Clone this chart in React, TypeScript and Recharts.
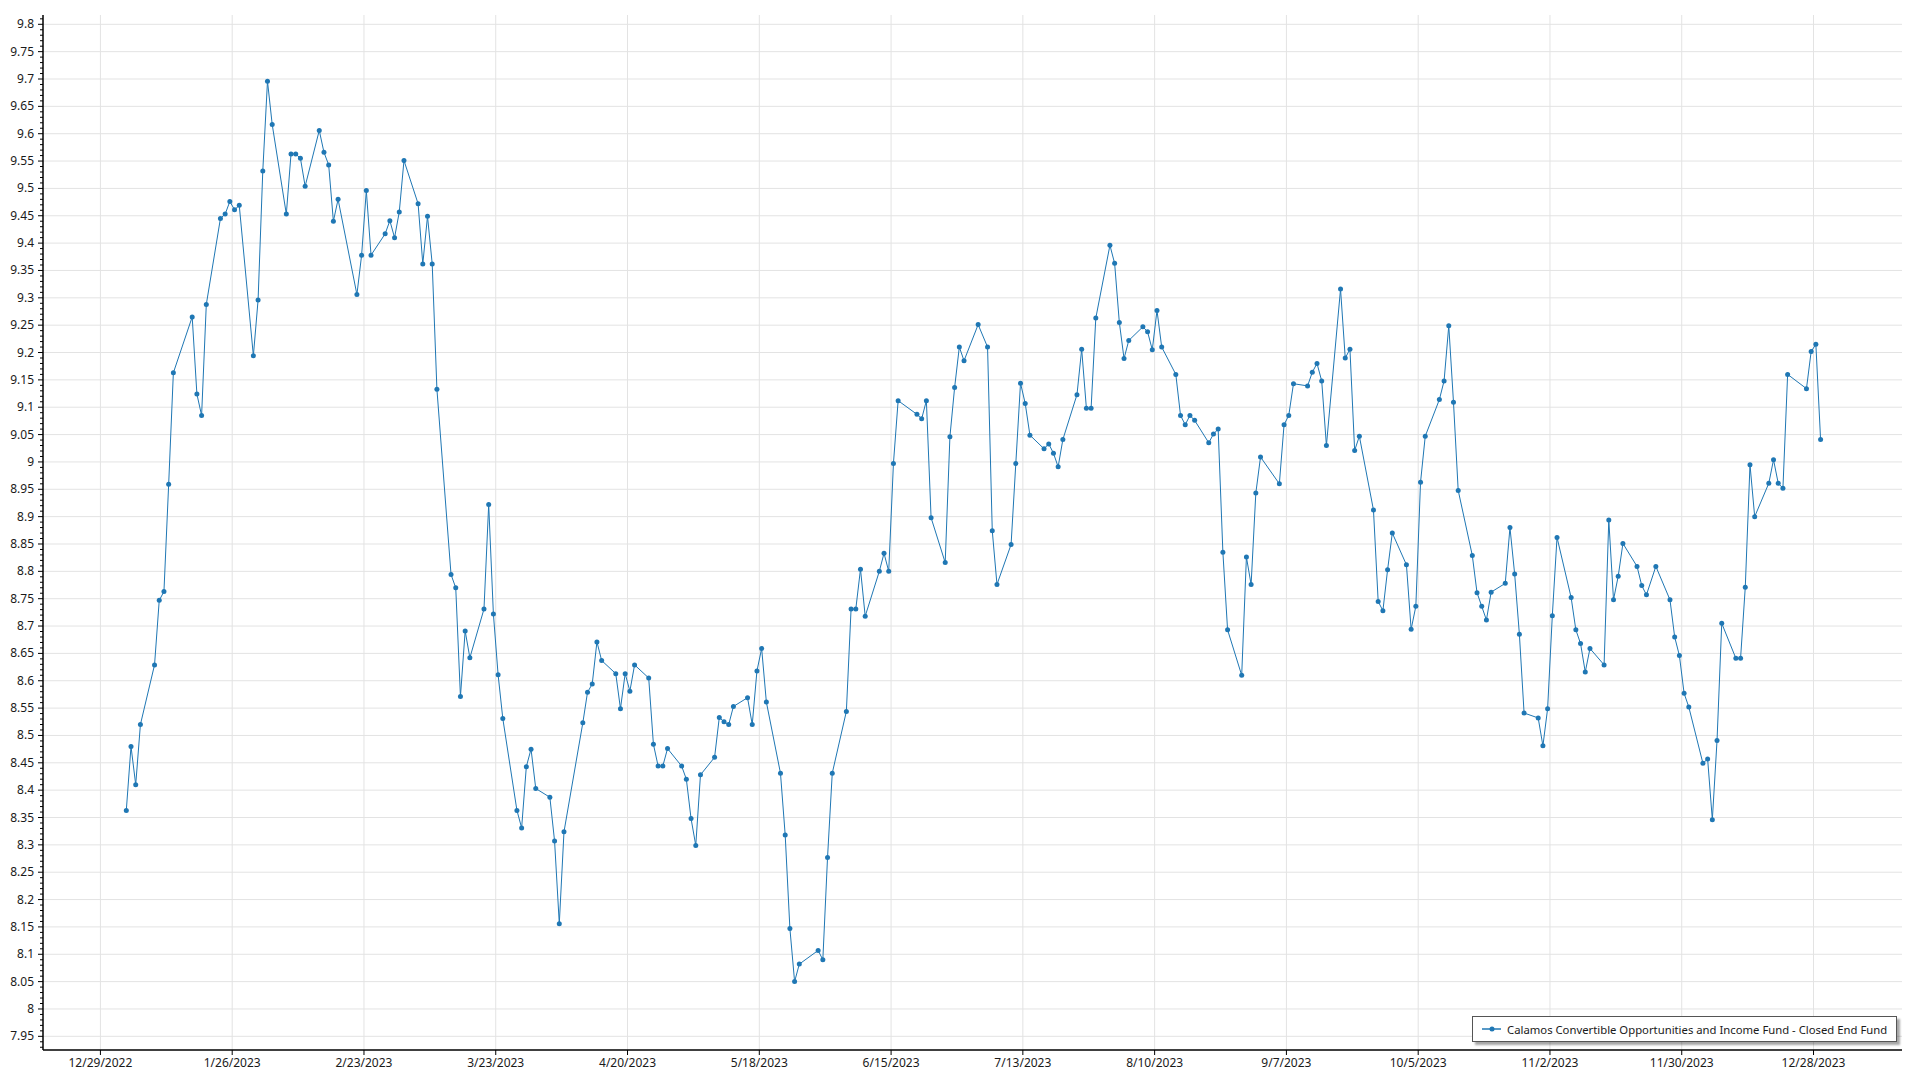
import React from 'react';
import { LineChart, Line, XAxis, YAxis, CartesianGrid } from 'recharts';

const SERIES_NAME = 'Calamos Convertible Opportunities and Income Fund - Closed End Fund';
const YEAR = 2023;

// trading dates (M/D of 2023), one month per line
const dates: string[] = [
  '1/3', '1/4', '1/5', '1/6', '1/9', '1/10', '1/11', '1/12', '1/13', '1/17', '1/18', '1/19', '1/20', '1/23', '1/24', '1/25', '1/26', '1/27', '1/30', '1/31',
  '2/1', '2/2', '2/3', '2/6', '2/7', '2/8', '2/9', '2/10', '2/13', '2/14', '2/15', '2/16', '2/17', '2/21', '2/22', '2/23', '2/24', '2/27', '2/28',
  '3/1', '3/2', '3/3', '3/6', '3/7', '3/8', '3/9', '3/10', '3/13', '3/14', '3/15', '3/16', '3/17', '3/20', '3/21', '3/22', '3/23', '3/24', '3/27', '3/28', '3/29', '3/30', '3/31',
  '4/3', '4/4', '4/5', '4/6', '4/10', '4/11', '4/12', '4/13', '4/14', '4/17', '4/18', '4/19', '4/20', '4/21', '4/24', '4/25', '4/26', '4/27', '4/28',
  '5/1', '5/2', '5/3', '5/4', '5/5', '5/8', '5/9', '5/10', '5/11', '5/12', '5/15', '5/16', '5/17', '5/18', '5/19', '5/22', '5/23', '5/24', '5/25', '5/26', '5/30', '5/31',
  '6/1', '6/2', '6/5', '6/6', '6/7', '6/8', '6/9', '6/12', '6/13', '6/14', '6/15', '6/16', '6/20', '6/21', '6/22', '6/23', '6/26', '6/27', '6/28', '6/29', '6/30',
  '7/3', '7/5', '7/6', '7/7', '7/10', '7/11', '7/12', '7/13', '7/14', '7/17', '7/18', '7/19', '7/20', '7/21', '7/24', '7/25', '7/26', '7/27', '7/28', '7/31',
  '8/1', '8/2', '8/3', '8/4', '8/7', '8/8', '8/9', '8/10', '8/11', '8/14', '8/15', '8/16', '8/17', '8/18', '8/21', '8/22', '8/23', '8/24', '8/25', '8/28', '8/29', '8/30', '8/31',
  '9/1', '9/5', '9/6', '9/7', '9/8', '9/11', '9/12', '9/13', '9/14', '9/15', '9/18', '9/19', '9/20', '9/21', '9/22', '9/25', '9/26', '9/27', '9/28', '9/29',
  '10/2', '10/3', '10/4', '10/5', '10/6', '10/9', '10/10', '10/11', '10/12', '10/13', '10/16', '10/17', '10/18', '10/19', '10/20', '10/23', '10/24', '10/25', '10/26', '10/27', '10/30', '10/31',
  '11/1', '11/2', '11/3', '11/6', '11/7', '11/8', '11/9', '11/10', '11/13', '11/14', '11/15', '11/16', '11/17', '11/20', '11/21', '11/22', '11/24', '11/27', '11/28', '11/29', '11/30',
  '12/1', '12/4', '12/5', '12/6', '12/7', '12/8', '12/11', '12/12', '12/13', '12/14', '12/15', '12/18', '12/19', '12/20', '12/21', '12/22', '12/26', '12/27', '12/28', '12/29',
];

// closing prices, same order as dates
const prices: number[] = [
  8.363, 8.48, 8.41, 8.52, 8.629, 8.747, 8.763, 8.959, 9.163, 9.265, 9.124, 9.085, 9.288, 9.445, 9.453, 9.476, 9.461, 9.469, 9.194, 9.296,
  9.532, 9.696, 9.617, 9.453, 9.563, 9.563, 9.555, 9.504, 9.606, 9.566, 9.543, 9.44, 9.48, 9.306, 9.378, 9.496, 9.378, 9.417, 9.441,
  9.41, 9.457, 9.551, 9.472, 9.362, 9.449, 9.362, 9.133, 8.794, 8.77, 8.571, 8.691, 8.642, 8.731, 8.922, 8.722, 8.611, 8.531, 8.363, 8.331, 8.443, 8.475, 8.403,
  8.387, 8.307, 8.156, 8.324, 8.523, 8.579, 8.594, 8.671, 8.637, 8.613, 8.549, 8.613, 8.581, 8.629, 8.605, 8.484, 8.444, 8.444, 8.476,
  8.444, 8.42, 8.348, 8.299, 8.428, 8.46, 8.533, 8.525, 8.52, 8.553, 8.569, 8.52, 8.618, 8.659, 8.561, 8.431, 8.318, 8.147, 8.05, 8.082, 8.107, 8.09,
  8.277, 8.431, 8.544, 8.731, 8.731, 8.804, 8.718, 8.8, 8.833, 8.8, 8.997, 9.112, 9.087, 9.079, 9.112, 8.898, 8.816, 9.046, 9.136, 9.21, 9.185,
  9.251, 9.21, 8.874, 8.776, 8.849, 8.997, 9.144, 9.107, 9.049, 9.024, 9.033, 9.016, 8.991, 9.041, 9.123, 9.206, 9.098, 9.098, 9.263, 9.396,
  9.363, 9.255, 9.189, 9.222, 9.247, 9.238, 9.205, 9.277, 9.21, 9.16, 9.085, 9.068, 9.085, 9.076, 9.035, 9.051, 9.06, 8.835, 8.693, 8.61, 8.826, 8.776, 8.943,
  9.009, 8.96, 9.068, 9.085, 9.143, 9.139, 9.164, 9.18, 9.148, 9.03, 9.316, 9.19, 9.206, 9.021, 9.047, 8.912, 8.745, 8.728, 8.803, 8.87,
  8.812, 8.694, 8.736, 8.963, 9.047, 9.114, 9.148, 9.249, 9.109, 8.948, 8.829, 8.761, 8.736, 8.711, 8.762, 8.778, 8.88, 8.795, 8.685, 8.541, 8.532, 8.481,
  8.549, 8.719, 8.862, 8.752, 8.693, 8.668, 8.616, 8.659, 8.629, 8.894, 8.748, 8.791, 8.851, 8.809, 8.774, 8.757, 8.809, 8.748, 8.68, 8.646, 8.577,
  8.552, 8.449, 8.457, 8.346, 8.491, 8.705, 8.641, 8.641, 8.771, 8.995, 8.9, 8.961, 9.004, 8.961, 8.952, 9.16, 9.134, 9.202, 9.215, 9.041,
];

const xTickLabels: string[] = [
  '12/29/2022', '1/26/2023', '2/23/2023', '3/23/2023', '4/20/2023', '5/18/2023', '6/15/2023',
  '7/13/2023', '8/10/2023', '9/7/2023', '10/5/2023', '11/2/2023', '11/30/2023', '12/28/2023',
];

const yTickValues: number[] = [
  7.95, 8, 8.05, 8.1, 8.15, 8.2, 8.25, 8.3, 8.35, 8.4, 8.45, 8.5, 8.55, 8.6, 8.65, 8.7, 8.75, 8.8, 8.85,
  8.9, 8.95, 9, 9.05, 9.1, 9.15, 9.2, 9.25, 9.3, 9.35, 9.4, 9.45, 9.5, 9.55, 9.6, 9.65, 9.7, 9.75, 9.8,
];

const X_DOMAIN: [number, number] = [-12.2, 382.8];
const Y_DOMAIN: [number, number] = [7.925, 9.817];
// quotes are stamped at midday, axis ticks at midnight
const QUOTE_TIME_OF_DAY = 0.5;

const COLOR = '#1f77b4';
const FONT = '"Noto Sans", sans-serif';
const TEXT_COLOR = '#1a1a1a';

const BASE = Date.UTC(2022, 11, 29);
const toDay = (s: string): number => {
  const [m, d, y] = s.split('/').map(Number);
  return Math.round((Date.UTC(y, m - 1, d) - BASE) / 86400000);
};

const data = dates.map((d, i) => ({ day: toDay(`${d}/${YEAR}`) + QUOTE_TIME_OF_DAY, price: prices[i] }));
const xTicks = xTickLabels.map(toDay);
const xLabelByDay: Record<number, string> = {};
xTickLabels.forEach((l) => { xLabelByDay[toDay(l)] = l; });

const majorSet = new Set(yTickValues.map((v) => Math.round(v * 100)));
const yAllTicks: number[] = [];
yTickValues.forEach((v) => {
  for (let k = -4; k <= 4; k++) {
    const t = Math.round(v * 100 + k) / 100;
    if (t > Y_DOMAIN[0] && t < Y_DOMAIN[1] && !yAllTicks.includes(t)) yAllTicks.push(t);
  }
});
yAllTicks.sort((a, b) => a - b);

const Y_TICK_SIZE = 5;
const Y_TICK_MARGIN = 4;

const YTick = (props: any) => {
  const { x, y, payload } = props;
  const v: number = payload.value;
  const major = majorSet.has(Math.round(v * 100));
  const ax = x + Y_TICK_SIZE + Y_TICK_MARGIN;
  return (
    <g>
      <line x1={ax} x2={ax - (major ? 5 : 3)} y1={y} y2={y} stroke="#000" strokeWidth={1} />
      {major && (
        <text x={x} y={y} dy={4} textAnchor="end" fontFamily={FONT} fontSize={12} fill={TEXT_COLOR}>
          {String(v)}
        </text>
      )}
    </g>
  );
};

const Legend = () => (
  <div
    style={{
      position: 'absolute',
      left: 1472,
      top: 1016,
      width: 423,
      height: 24,
      border: '1.5px solid #555',
      background: '#fff',
      boxShadow: '3px 3px 2px rgba(0,0,0,0.35)',
      display: 'flex',
      alignItems: 'center',
      fontFamily: FONT,
      fontSize: 11.3,
      color: TEXT_COLOR,
      whiteSpace: 'nowrap',
      overflow: 'hidden',
    }}
  >
    <svg width={34} height={10} style={{ flexShrink: 0, display: 'block' }}>
      <line x1={9} x2={28} y1={5} y2={5} stroke={COLOR} strokeWidth={1.5} />
      <circle cx={19} cy={5} r={2.5} fill={COLOR} />
    </svg>
    <span>{SERIES_NAME}</span>
  </div>
);

export default function App() {
  return (
    <div style={{ position: 'absolute', left: 0, top: 0, width: 1920, height: 1080, background: '#fff' }}>
      <LineChart
        width={1920}
        height={1080}
        data={data}
        margin={{ top: 15, right: 18, bottom: 0, left: 0 }}
      >
        <CartesianGrid
          stroke="#e3e3e3"
          strokeWidth={1}
          horizontalValues={yTickValues}
          verticalValues={xTicks}
        />
        <XAxis
          dataKey="day"
          type="number"
          domain={X_DOMAIN}
          allowDataOverflow
          ticks={xTicks}
          interval={0}
          height={30}
          tickSize={5}
          tickMargin={3}
          tickFormatter={(d: number) => xLabelByDay[d] ?? ''}
          axisLine={{ stroke: '#000', strokeWidth: 1.5 }}
          tickLine={{ stroke: '#000' }}
          tick={{ fontFamily: FONT, fontSize: 12, fill: TEXT_COLOR }}
        />
        <XAxis
          xAxisId="top"
          orientation="top"
          type="number"
          domain={X_DOMAIN}
          height={0}
          tick={false}
          tickLine={false}
          axisLine={{ stroke: '#000', strokeWidth: 1 }}
        />
        <YAxis
          type="number"
          domain={Y_DOMAIN}
          allowDataOverflow
          ticks={yAllTicks}
          interval={0}
          width={43}
          tickSize={Y_TICK_SIZE}
          tickMargin={Y_TICK_MARGIN}
          tickLine={false}
          tick={<YTick />}
          axisLine={{ stroke: '#000', strokeWidth: 1.5 }}
        />
        <YAxis
          yAxisId="right"
          orientation="right"
          type="number"
          domain={Y_DOMAIN}
          width={0}
          tick={false}
          tickLine={false}
          axisLine={{ stroke: '#000', strokeWidth: 1 }}
        />
        <Line
          type="linear"
          dataKey="price"
          name={SERIES_NAME}
          stroke={COLOR}
          strokeWidth={1}
          dot={{ r: 2.5, fill: COLOR, stroke: COLOR, strokeWidth: 0 }}
          activeDot={false}
          isAnimationActive={false}
        />
      </LineChart>
      <Legend />
    </div>
  );
}
